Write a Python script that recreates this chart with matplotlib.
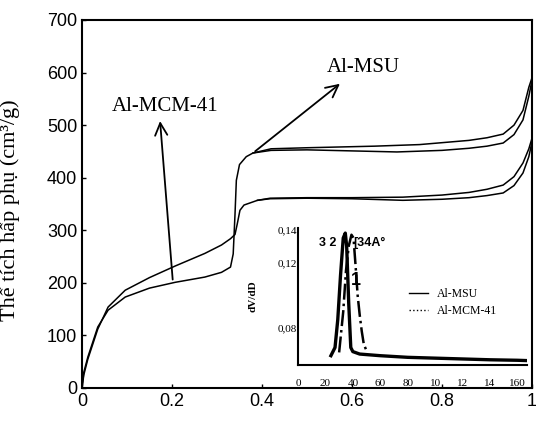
import matplotlib
matplotlib.use("Agg")
import matplotlib.pyplot as plt
from matplotlib.lines import Line2D

# main isotherm, curve with big step (plateau ~450)
xa_ads = [0, 0.004, 0.013, 0.035, 0.058, 0.096, 0.15, 0.207, 0.273, 0.31, 0.33, 0.336,
          0.34, 0.343, 0.35, 0.365, 0.38, 0.42, 0.5, 0.6, 0.7, 0.8, 0.86, 0.9, 0.936,
          0.96, 0.98, 0.993, 1.0]
va_ads = [0, 30, 59, 116, 148, 173, 190, 201, 211, 220, 230, 255, 330, 395, 425, 440,
          447, 452, 453, 451, 449, 452, 456, 460, 466, 482, 510, 555, 585]
xa_des = [0.38, 0.42, 0.5, 0.65, 0.75, 0.86, 0.9, 0.936, 0.96, 0.98, 0.993, 1.0]
va_des = [447, 455, 457, 460, 463, 471, 476, 483, 500, 528, 572, 590]

# curve with small step (plateau ~360)
xb_ads = [0, 0.004, 0.013, 0.035, 0.058, 0.096, 0.15, 0.207, 0.273, 0.31, 0.33, 0.34,
          0.345, 0.351, 0.36, 0.39, 0.418, 0.5, 0.6, 0.713, 0.8, 0.86, 0.9, 0.936,
          0.96, 0.98, 0.993, 1.0]
vb_ads = [0, 25, 55, 112, 154, 186, 210, 232, 256, 272, 284, 292, 312, 338, 348, 357,
          360, 361, 360, 357, 359, 362, 366, 371, 385, 409, 440, 468]
xb_des = [0.39, 0.418, 0.5, 0.6, 0.713, 0.8, 0.86, 0.9, 0.936, 0.96, 0.98, 0.993, 1.0]
vb_des = [357, 361, 362, 362, 363, 367, 372, 378, 386, 402, 428, 455, 475]

# inset: pore size distribution
d_msu = [24, 27, 29, 31, 33, 34.5, 35.5, 37, 38.5, 40, 45, 60, 80, 100, 120, 140, 160, 167]
p_msu = [0.063, 0.068, 0.085, 0.112, 0.135, 0.138, 0.13, 0.095, 0.068, 0.0655, 0.064,
         0.063, 0.062, 0.0615, 0.061, 0.0605, 0.0602, 0.060]
d_mcm = [30, 33, 35, 37, 39, 40.5, 42, 43.5, 45, 46.5, 48, 50]
p_mcm = [0.065, 0.09, 0.115, 0.13, 0.137, 0.135, 0.118, 0.1, 0.088, 0.078, 0.07, 0.066]

x_ticks = [0, 0.2, 0.4, 0.6, 0.8, 1]
x_ticklabels = ['0', '0.2', '0.4', '0.6', '0.8', '1']
y_ticks = [0, 100, 200, 300, 400, 500, 600, 700]
in_xticks = [0, 20, 40, 60, 80, 100, 120, 140, 160]
in_xticklabels = ['0', '20', '40', '60', '80', '10', '12', '14', '160']
in_yticks = [0.08, 0.12, 0.14]
in_yticklabels = ['0,08', '0,12', '0,14']

sans = 'Liberation Sans'
serif = 'Liberation Serif'

fig = plt.figure(figsize=(5.36, 4.21), dpi=100)
ax = fig.add_axes([0.153, 0.0784, 0.8395, 0.8741])

lw = 1.1
ax.plot(xa_ads, va_ads, color='black', lw=lw)
ax.plot(xa_des, va_des, color='black', lw=lw)
ax.plot(xb_ads, vb_ads, color='black', lw=lw)
ax.plot(xb_des, vb_des, color='black', lw=lw)

ax.set_xlim(0, 1)
ax.set_ylim(0, 700)
ax.set_xticks(x_ticks)
ax.set_xticklabels(x_ticklabels, family=sans, fontsize=13)
ax.set_yticks(y_ticks)
ax.set_yticklabels([str(v) for v in y_ticks], family=sans, fontsize=13)
ax.tick_params(direction='in', length=3, width=1)
for s in ax.spines.values():
    s.set_linewidth(1.5)
ax.set_ylabel('Thể tích hấp phụ (cm³/g)', family=serif, fontsize=16)
ax.yaxis.set_label_coords(-0.138, 0.484)

# arrows with labels
ax.annotate('', xy=(0.173, 513), xytext=(0.202, 201),
            arrowprops=dict(arrowstyle='->', color='black', lw=1.3, mutation_scale=22))
ax.text(0.185, 535, 'Al-MCM-41', family=serif, fontsize=15, ha='center', va='center')
ax.annotate('', xy=(0.578, 582), xytext=(0.38, 447),
            arrowprops=dict(arrowstyle='->', color='black', lw=1.3, mutation_scale=22))
ax.text(0.625, 610, 'Al-MSU', family=serif, fontsize=15, ha='center', va='center')

# inset
ins = fig.add_axes([0.556, 0.133, 0.427, 0.325])
ins.patch.set_alpha(0)
ins.plot(d_msu, p_msu, color='black', lw=2.4)
ins.plot(d_mcm, p_mcm, color='black', lw=1.8, ls='-.')
ins.set_xlim(0, 167)
ins.set_ylim(0.0573, 0.141)
ins.spines['top'].set_visible(False)
ins.spines['right'].set_visible(False)
ins.spines['left'].set_linewidth(1.5)
ins.spines['bottom'].set_linewidth(1.5)
ins.set_xticks(in_xticks)
ins.set_xticklabels(in_xticklabels, family=serif, fontsize=8)
ins.set_yticks(in_yticks)
ins.set_yticklabels(in_yticklabels, family=serif, fontsize=8)
ins.tick_params(length=0, pad=10)
ins.tick_params(axis='y', pad=1)
ins.set_ylabel('dV/dD', family=serif, fontsize=8, fontweight='bold', labelpad=14)

ins.text(22, 0.132, '3 2', family=sans, fontsize=9, fontweight='bold', ha='center', va='center')
ins.text(40, 0.132, '[34A°', family=sans, fontsize=9, fontweight='bold', ha='left', va='center')
ins.text(42, 0.109, '1', family=sans, fontsize=13, fontweight='bold', ha='center', va='center')

handles = [Line2D([], [], color='black', lw=1),
           Line2D([], [], color='black', lw=1, ls=':')]
ins.legend(handles, ['Al-MSU', 'Al-MCM-41'], loc='upper left',
           bbox_to_anchor=(0.437, 0.64), frameon=False, handlelength=1.6,
           prop={'family': serif, 'size': 8.5}, labelspacing=0.4)

fig.savefig('out.png', dpi=100)
